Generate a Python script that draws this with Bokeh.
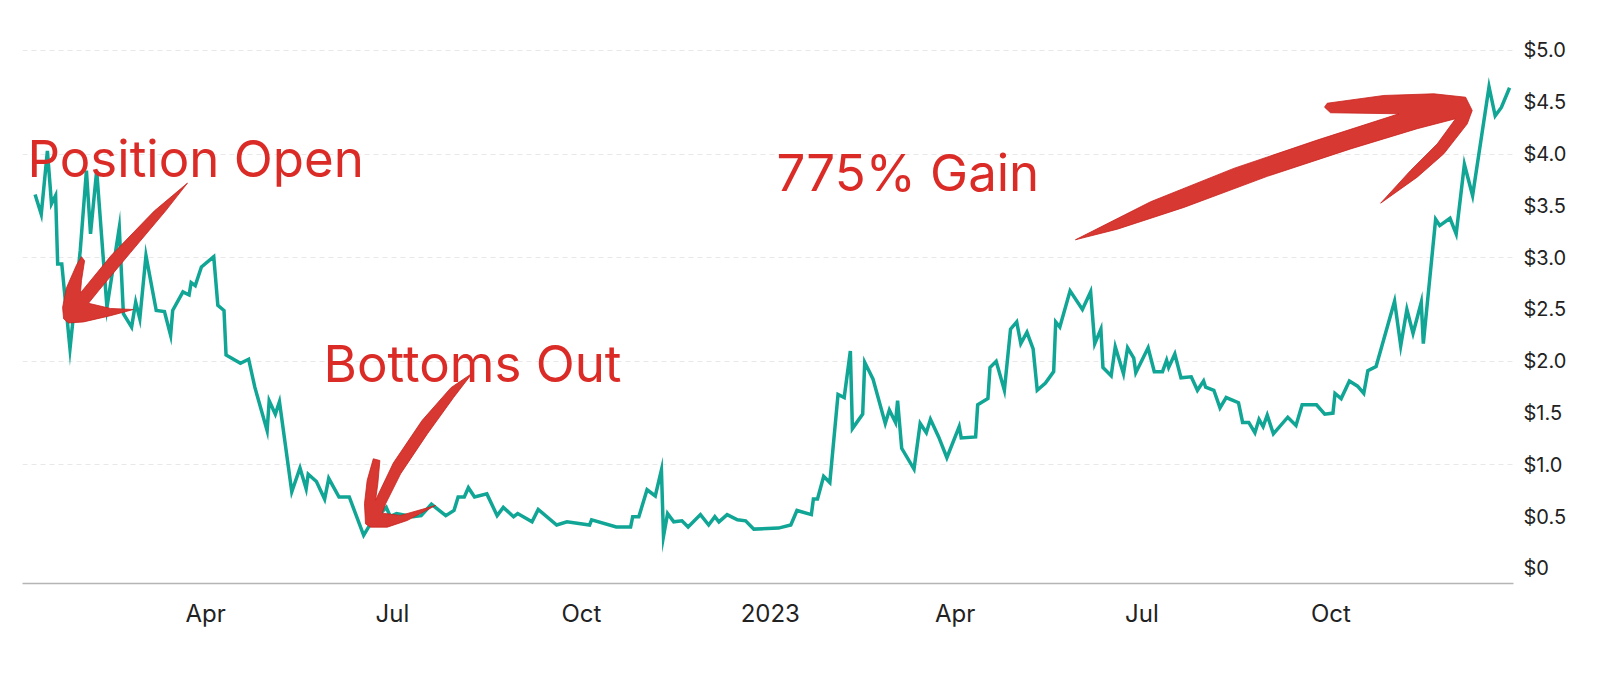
import numpy as np
import pandas as pd
from bokeh.plotting import figure
from bokeh.models import Range1d, FixedTicker, ColumnDataSource
from bokeh.core.properties import value
from bokeh.embed import file_html
from bokeh.resources import INLINE

# ---------------- data ----------------
DATES = [
    "2022-01-08", "2022-01-11", "2022-01-14", "2022-01-16", "2022-01-18", "2022-01-19", "2022-01-21",
    "2022-01-25", "2022-01-30", "2022-02-02", "2022-02-04", "2022-02-07", "2022-02-12", "2022-02-18",
    "2022-02-20", "2022-02-24", "2022-02-26", "2022-02-28", "2022-03-03", "2022-03-08", "2022-03-12",
    "2022-03-15", "2022-03-16", "2022-03-21", "2022-03-24", "2022-03-25", "2022-03-27", "2022-03-30",
    "2022-04-05", "2022-04-07", "2022-04-10", "2022-04-11", "2022-04-18", "2022-04-22", "2022-04-25",
    "2022-05-01", "2022-05-02", "2022-05-05", "2022-05-07", "2022-05-13", "2022-05-17", "2022-05-20",
    "2022-05-21", "2022-05-25", "2022-05-29", "2022-05-31", "2022-06-05", "2022-06-10", "2022-06-17",
    "2022-06-20", "2022-06-28", "2022-06-30", "2022-07-03", "2022-07-11", "2022-07-15", "2022-07-20",
    "2022-07-27", "2022-07-31", "2022-08-02", "2022-08-05", "2022-08-07", "2022-08-10", "2022-08-16",
    "2022-08-21", "2022-08-24", "2022-08-29", "2022-08-31", "2022-09-07", "2022-09-10", "2022-09-19",
    "2022-09-24", "2022-10-05", "2022-10-06", "2022-10-18", "2022-10-25", "2022-10-26", "2022-10-29",
    "2022-11-02", "2022-11-06", "2022-11-09", "2022-11-10", "2022-11-12", "2022-11-15", "2022-11-19",
    "2022-11-22", "2022-11-28", "2022-12-02", "2022-12-05", "2022-12-07", "2022-12-11", "2022-12-16",
    "2022-12-20", "2022-12-24", "2023-01-05", "2023-01-11", "2023-01-14", "2023-01-21", "2023-01-22",
    "2023-01-24", "2023-01-27", "2023-01-30", "2023-02-03", "2023-02-06", "2023-02-09", "2023-02-10",
    "2023-02-15", "2023-02-16", "2023-02-20", "2023-02-26", "2023-02-28", "2023-03-03", "2023-03-04",
    "2023-03-06", "2023-03-12", "2023-03-15", "2023-03-18", "2023-03-20", "2023-03-24", "2023-03-28",
    "2023-04-03", "2023-04-04", "2023-04-11", "2023-04-12", "2023-04-17", "2023-04-18", "2023-04-21",
    "2023-04-25", "2023-04-28", "2023-05-01", "2023-05-03", "2023-05-06", "2023-05-09", "2023-05-11",
    "2023-05-15", "2023-05-19", "2023-05-20", "2023-05-22", "2023-05-27", "2023-06-02", "2023-06-06",
    "2023-06-08", "2023-06-11", "2023-06-12", "2023-06-16", "2023-06-18", "2023-06-22", "2023-06-24",
    "2023-06-27", "2023-06-28", "2023-07-04", "2023-07-07", "2023-07-11", "2023-07-13", "2023-07-14",
    "2023-07-17", "2023-07-20", "2023-07-25", "2023-07-28", "2023-07-31", "2023-08-01", "2023-08-05",
    "2023-08-08", "2023-08-11", "2023-08-17", "2023-08-19", "2023-08-22", "2023-08-25", "2023-08-27",
    "2023-08-29", "2023-08-31", "2023-09-03", "2023-09-10", "2023-09-14", "2023-09-17", "2023-09-24",
    "2023-09-28", "2023-10-02", "2023-10-03", "2023-10-06", "2023-10-10", "2023-10-14", "2023-10-17",
    "2023-10-19", "2023-10-23", "2023-11-01", "2023-11-04", "2023-11-07", "2023-11-10", "2023-11-14",
    "2023-11-15", "2023-11-21", "2023-11-23", "2023-11-28", "2023-12-01", "2023-12-05", "2023-12-09",
    "2023-12-17", "2023-12-20", "2023-12-23", "2023-12-27",
]
PRICES = [
    3.61, 3.42, 4.03, 3.52, 3.60, 2.94, 2.94,
    2.12, 3.07, 3.84, 3.23, 3.84, 2.52, 3.29,
    2.46, 2.33, 2.57, 2.41, 3.02, 2.49, 2.48,
    2.25, 2.49, 2.67, 2.64, 2.76, 2.73, 2.91,
    3.01, 2.54, 2.49, 2.06, 1.98, 2.02, 1.75,
    1.33, 1.62, 1.49, 1.61, 0.74, 0.97, 0.77,
    0.91, 0.84, 0.67, 0.87, 0.69, 0.69, 0.32,
    0.42, 0.59, 0.50, 0.53, 0.50, 0.51, 0.62,
    0.51, 0.56, 0.69, 0.69, 0.78, 0.69, 0.72,
    0.51, 0.59, 0.50, 0.53, 0.45, 0.57, 0.42,
    0.45, 0.42, 0.47, 0.40, 0.40, 0.50, 0.50,
    0.76, 0.70, 0.95, 0.31, 0.53, 0.45, 0.46,
    0.40, 0.52, 0.42, 0.50, 0.45, 0.52, 0.47,
    0.46, 0.38, 0.39, 0.42, 0.56, 0.52, 0.67,
    0.67, 0.89, 0.83, 1.68, 1.65, 2.10, 1.35,
    1.49, 1.99, 1.83, 1.40, 1.53, 1.41, 1.62,
    1.16, 0.96, 1.40, 1.31, 1.44, 1.27, 1.07,
    1.37, 1.26, 1.27, 1.58, 1.64, 1.94, 2.00,
    1.72, 2.31, 2.38, 2.17, 2.28, 2.12, 1.72,
    1.79, 1.90, 2.38, 2.33, 2.68, 2.50, 2.67,
    2.17, 2.31, 1.94, 1.86, 2.14, 1.88, 2.13,
    2.03, 1.89, 2.13, 1.90, 1.90, 2.01, 1.94,
    2.07, 1.84, 1.85, 1.72, 1.81, 1.75, 1.72,
    1.55, 1.65, 1.60, 1.41, 1.41, 1.31, 1.44,
    1.37, 1.48, 1.30, 1.46, 1.38, 1.58, 1.58,
    1.49, 1.50, 1.69, 1.64, 1.81, 1.76, 1.69,
    1.91, 1.95, 2.58, 2.15, 2.50, 2.27, 2.57,
    2.17, 3.37, 3.31, 3.38, 3.23, 3.90, 3.60,
    4.65, 4.37, 4.45, 4.64,
]

X_TICKS = ["2022-04-01", "2022-07-01", "2022-10-01", "2023-01-01", "2023-04-01", "2023-07-01", "2023-10-01"]
X_TICK_LABELS = ["Apr", "Jul", "Oct", "2023", "Apr", "Jul", "Oct"]
Y_TICKS = [0, 0.5, 1.0, 1.5, 2.0, 2.5, 3.0, 3.5, 4.0, 4.5, 5.0]
Y_TICK_LABELS = ["$0", "$0.5", "$1.0", "$1.5", "$2.0", "$2.5", "$3.0", "$3.5", "$4.0", "$4.5", "$5.0"]
Y_GRID = [1, 2, 3, 4, 5]

# annotations: (days after 2022-04-01, dollars)
ANNOT_BASE = "2022-04-01"
LABELS = ["Position Open", "Bottoms Out", "775% Gain"]
LABEL_DAYS = [-86.7, 57.5, 278.0]
LABEL_VALUES = [3.958, 1.979, 3.825]

ARROW_OPEN = [(-8.8, 3.72), (-19.5, 3.45), (-36.5, 3.05), (-52.1, 2.68), (-57.0, 2.56),
              (-46.3, 2.51), (-35.1, 2.50), (-46.3, 2.44), (-59.4, 2.38), (-66.7, 2.37),
              (-69.1, 2.41), (-69.6, 2.52), (-67.7, 2.71), (-62.8, 2.93), (-60.4, 3.01),
              (-58.9, 2.97), (-60.4, 2.78), (-60.9, 2.66), (-46.0, 3.02), (-25.0, 3.45)]
ARROW_BOTTOM = [(129.9, 1.885), (120.9, 1.653), (108.0, 1.299), (95.0, 0.914), (87.7, 0.625),
                (86.0, 0.534), (95.0, 0.512), (112.0, 0.608), (98.2, 0.463), (88.5, 0.399),
                (80.3, 0.399), (77.9, 0.431), (77.4, 0.625), (78.7, 0.849), (81.7, 1.059),
                (84.9, 1.042), (83.9, 0.818), (82.8, 0.660), (91.5, 1.020), (105.5, 1.430),
                (119.5, 1.745)]
ARROW_GAIN = [(423.6, 3.173), (460.2, 3.540), (500.7, 3.862), (541.3, 4.135), (581.1, 4.389),
              (547.8, 4.399), (544.9, 4.453), (546.2, 4.491), (573.8, 4.566), (598.1, 4.582),
              (613.6, 4.549), (616.8, 4.421), (614.4, 4.292), (603.0, 4.003), (590.0, 3.777),
              (572.2, 3.526), (586.8, 3.842), (599.8, 4.099), (608.7, 4.341), (590.0, 4.245),
              (557.6, 4.050), (517.0, 3.785), (476.4, 3.485), (444.0, 3.275)]

X_START = "2022-01-01 21:00"
X_END = "2023-12-28 22:00"
Y_START, Y_END = -0.145, 5.193

LINE_COLOR = "#10A595"
RED = "#D83832"
RED_TEXT = "#DB2B26"

# ---------------- helpers ----------------
DAY_MS = 86400000.0


def ms(s):
    return pd.Timestamp(s).value / 1e6


base_ms = ms(ANNOT_BASE)


def shape(points):
    xs = [base_ms + d * DAY_MS for d, _ in points]
    ys = [v for _, v in points]
    return xs, ys


# ---------------- figure ----------------
p = figure(
    width=1590, height=663,
    x_axis_type="datetime",
    y_axis_location="right",
    x_range=Range1d(ms(X_START), ms(X_END)),
    y_range=Range1d(Y_START, Y_END),
    output_backend="svg",
    toolbar_location=None,
    min_border_left=22, min_border_right=77, min_border_top=30, min_border_bottom=80,
)
p.outline_line_color = None
p.background_fill_color = "white"
p.border_fill_color = "white"

# grid
p.xgrid.visible = False
p.ygrid.ticker = FixedTicker(ticks=Y_GRID)
p.ygrid.grid_line_color = "#e8e8e8"
p.ygrid.grid_line_dash = "5 4"
p.ygrid.grid_line_width = 1

# x axis
xticks = [ms(t) for t in X_TICKS]
p.xaxis.ticker = FixedTicker(ticks=xticks)
p.xaxis.major_label_overrides = {t: lab for t, lab in zip(xticks, X_TICK_LABELS)}
p.xaxis.axis_line_color = "#b5b5b5"
p.xaxis.axis_line_width = 1.5
p.xaxis.major_tick_line_color = None
p.xaxis.minor_tick_line_color = None
p.xaxis.major_tick_out = 0
p.xaxis.major_label_standoff = 15
p.xaxis.major_label_text_font = "Inter"
p.xaxis.major_label_text_font_size = "24px"
p.xaxis.major_label_text_color = "#222222"

# y axis
p.yaxis.ticker = FixedTicker(ticks=Y_TICKS)
p.yaxis.major_label_overrides = {float(t): lab for t, lab in zip(Y_TICKS, Y_TICK_LABELS)}
p.yaxis.axis_line_color = None
p.yaxis.major_tick_line_color = None
p.yaxis.minor_tick_line_color = None
p.yaxis.major_tick_out = 0
p.yaxis.major_label_standoff = 10
p.yaxis.major_label_text_font = "Inter"
p.yaxis.major_label_text_font_size = "20px"
p.yaxis.major_label_text_color = "#222222"

# price line
src = ColumnDataSource(dict(date=pd.to_datetime(DATES), price=PRICES))
p.line("date", "price", source=src, line_color=LINE_COLOR, line_width=3.5, line_join="miter")

# arrows
axs, ays = [], []
for pts in (ARROW_OPEN, ARROW_BOTTOM, ARROW_GAIN):
    xs, ys = shape(pts)
    axs.append(xs)
    ays.append(ys)
p.patches(axs, ays, fill_color=RED, line_color="#C9221D", line_width=0.8, line_join="round")

# labels
lx = [base_ms + d * DAY_MS for d in LABEL_DAYS]
p.text(x=lx, y=LABEL_VALUES, text=LABELS,
       text_font=value("Inter"), text_font_size=value("51px"),
       text_color=RED_TEXT, text_align="left", text_baseline="alphabetic")

open("out.html", "w").write(file_html(p, INLINE))
